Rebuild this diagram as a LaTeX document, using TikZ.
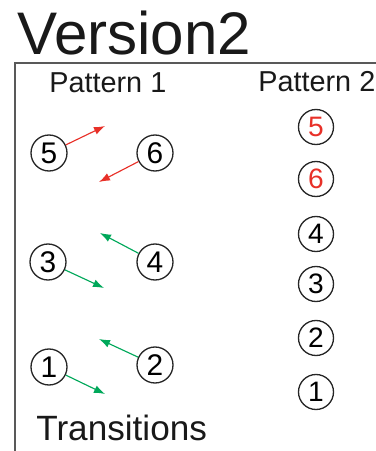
\documentclass[tikz,border=0pt]{standalone}
\usepackage{fontspec}
\setmainfont{Liberation Sans}
\usetikzlibrary{arrows.meta}
\definecolor{redarr}{RGB}{232,48,40}
\definecolor{greenarr}{RGB}{0,168,90}
\begin{document}
\begin{tikzpicture}[x=0.2mm,y=-0.2mm,
    numa/.style={circle,draw=black!85,line width=0.75pt,minimum size=7.2mm,inner sep=0pt,font=\fontsize{17}{19}\selectfont},
    numb/.style={circle,draw=black!85,line width=0.75pt,minimum size=7mm,inner sep=0pt,font=\fontsize{16}{18}\selectfont},
    lbl/.style={anchor=base west,inner sep=0pt,text=black!90},
    tr/.style={line width=0.65pt,-{Latex[length=2.2mm,width=1.6mm]}}]
                \useasboundingbox(0,0)rectangle(376,451);
                \draw[black!65,line width=0.8pt](15,451)--(15,63)--(376,63);
                \node[lbl,font=\fontsize{34.2}{40}\selectfont](title)at(17,55){Version2};
                \node[lbl,font=\fontsize{16.4}{19}\selectfont](pat1)at(49,93){Pattern 1};
                \node[lbl,font=\fontsize{16.4}{19}\selectfont](pat2)at(258,92){Pattern 2};
                \node[lbl,font=\fontsize{20}{24}\selectfont](trans)at(36,440){Transitions};
                % pattern 1
                \node[numa](a5)at(49,153){5};
                \node[numa](a6)at(155,153){6};
                \node[numa](a3)at(48,262){3};
                \node[numa](a4)at(155,262){4};
                \node[numa](a1)at(49,367){1};
                \node[numa](a2)at(155,365){2};
                \coordinate(t5)at(105,126);
                \coordinate(t6)at(99,182);
                \coordinate(t4)at(100,233);
                \coordinate(t3)at(104,288);
                \coordinate(t2)at(99,339);
                \coordinate(t1)at(105,394);
                \draw[tr,redarr](a5)--(t5);
                \draw[tr,redarr](a6)--(t6);
                \draw[tr,greenarr](a4)--(t4);
                \draw[tr,greenarr](a3)--(t3);
                \draw[tr,greenarr](a2)--(t2);
                \draw[tr,greenarr](a1)--(t1);
                % pattern 2
                \node[numb,text=redarr](b5)at(316,127){5};
                \node[numb,text=redarr](b6)at(316,179){6};
                \node[numb](b4)at(316,234){4};
                \node[numb](b3)at(316,284){3};
                \node[numb](b2)at(316,338){2};
                \node[numb](b1)at(316,392){1};
            \end{tikzpicture}
\end{document}
